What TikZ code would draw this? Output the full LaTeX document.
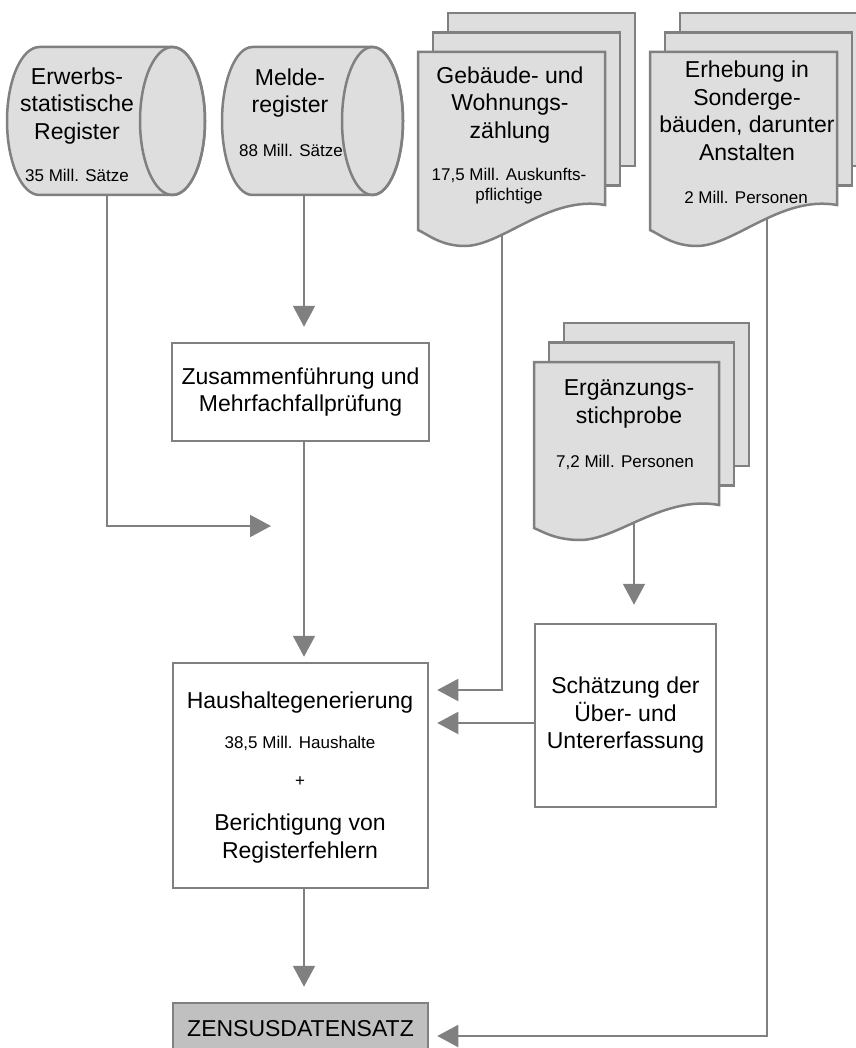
\documentclass[tikz,border=0pt]{standalone}
\usepackage{fontspec}
\setmainfont{Liberation Sans}
\usetikzlibrary{arrows.meta}
\definecolor{lg}{HTML}{808080}
\definecolor{docfill}{HTML}{DEDEDE}
\definecolor{zfill}{HTML}{C0C0C0}
\pgfdeclarelayer{bg}
\pgfsetlayers{bg,main}
\tikzset{
  shapeline/.style={draw=lg, line width=2.5pt},
  box/.style={shapeline, fill=white, rectangle, inner sep=0pt},
  big/.style={font=\fontsize{23}{27.5}\selectfont, align=center, inner sep=0pt},
  small/.style={font=\fontsize{17}{20}\selectfont, align=center, inner sep=0pt},
  conn/.style={draw=lg, line width=2pt, -{Triangle[width=22pt,length=21pt]}}
}
\newcommand\cylshape[5]{%
  \path[shapeline, fill=docfill] (#1,#3-#5) -- (#2,#3-#5)
    arc[start angle=-90,end angle=90,x radius=#4,y radius=#5]
    -- (#1,#3+#5)
    arc[start angle=90,end angle=270,x radius=#4,y radius=#5] -- cycle;
  \draw[shapeline] (#2,#3) ellipse[x radius=#4, y radius=#5];
}
\newcommand\docstack[6]{%
  \draw[shapeline, fill=docfill] (#1+30,#2-39) rectangle ++(#3,#4);
  \draw[shapeline, fill=docfill] (#1+15,#2-19.5) rectangle ++(#3,#4);
  \draw[shapeline, fill=docfill] (#1,#2) -- (#1+#3,#2) -- (#1+#3,#2+#4)
    .. controls (#1+0.7*#3,#2+#4-10) and (#1+0.45*#3,#2+#6) .. (#1+0.25*#3,#2+#6)
    .. controls (#1+0.12*#3,#2+#6) and (#1+0.05*#3,#2+#5+4) .. (#1,#2+#5) -- cycle;
}
\begin{document}
\begin{tikzpicture}[x=1pt,y=-1pt]
\useasboundingbox (0,0) rectangle (855,1048);

% cylinders
\cylshape{39.5}{172.5}{121}{32.5}{74}
\cylshape{252.5}{372.5}{121}{30.5}{74}
\node[big] (t1) at (77,106) {Erwerbs-\\statistische\\Register};
\node[small] (s1) at (77,175) {35 Mill. Sätze};
\node[big] (t2) at (290,93) {Melde-\\register};
\node[small] (s2) at (291,150) {88 Mill. Sätze};

% document stacks
\docstack{418}{52}{187}{153}{178}{194}
\docstack{650}{52}{187}{153}{178}{194}
\docstack{534}{362}{185}{143}{166}{178}
\node[big] (t3) at (510,105) {Gebäude- und\\Wohnungs-\\zählung};
\node[small] (s3) at (509,186) {17,5 Mill. Auskunfts-\\pflichtige};
\node[big] (t4) at (747,111) {Erhebung in\\Sonderge-\\bäuden, darunter\\Anstalten};
\node[small] (s4) at (746,197) {2 Mill. Personen};
\node[big] (t5) at (629,404) {Ergänzungs-\\stichprobe};
\node[small] (s5) at (625,462) {7,2 Mill. Personen};

% boxes
\node[box, minimum width=257pt, minimum height=98pt, big] (zus) at (300.5,392)
  {Zusammenführung und\\Mehrfachfallprüfung};
\node[box, minimum width=255pt, minimum height=225pt] (hh) at (300.5,775.5) {};
\node[big] (h1) at (300,703) {Haushaltegenerierung};
\node[small] (h2) at (300,743) {38,5 Mill. Haushalte};
\node[small] (h3) at (300,782) {+};
\node[big] (h4) at (300,838.5) {Berichtigung von\\Registerfehlern};
\node[box, minimum width=181pt, minimum height=183pt, big] (sch) at (625.5,715.5)
  {Schätzung der\\Über- und\\Untererfassung};
\node[box, fill=zfill, minimum width=255pt, minimum height=52pt, big] (zen) at (300.5,1029)
  {ZENSUSDATENSATZ};

% connector points
\coordinate (c1b) at (107,190);
\coordinate (c2b) at (304,190);
\coordinate (m1) at (271,526);
\coordinate (d1b) at (502,220);
\coordinate (j1) at (502,690);
\coordinate (j2) at (535,723);
\coordinate (eb) at (634,500);
\coordinate (d2b) at (767,200);
\coordinate (j3) at (767,1036);

\begin{pgfonlayer}{bg}
\draw[conn] (c1b) |- (m1);
\draw[conn, shorten >=15pt] (c2b) -- (c2b |- zus.north);
\draw[conn, shorten >=5pt] (zus.south -| c2b) -- (hh.north -| c2b);
\draw[conn, shorten >=8pt] (d1b) -- (j1) -- (j1 -| hh.east);
\draw[conn, shorten >=8pt] (j2) -- (j2 -| hh.east);
\draw[conn, shorten >=18pt] (eb) -- (eb |- sch.north);
\draw[conn, shorten >=15pt] (hh.south -| c2b) -- (zen.north -| c2b);
\draw[conn, shorten >=8pt] (d2b) -- (j3) -- (j3 -| zen.east);
\end{pgfonlayer}
\end{tikzpicture}
\end{document}
